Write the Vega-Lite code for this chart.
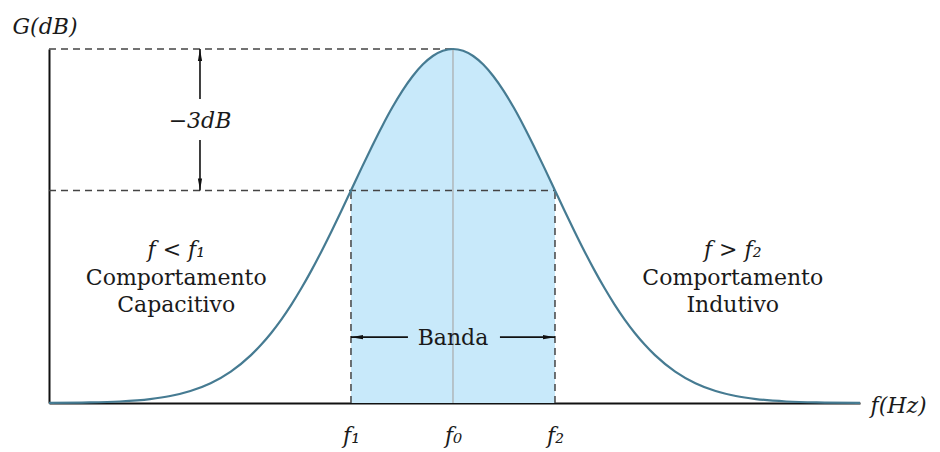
{
  "$schema": "https://vega.github.io/schema/vega-lite/v6.json",
  "width": 811,
  "height": 354,
  "autosize": {"type": "none"},
  "padding": {"left": 49, "top": 49, "right": 80, "bottom": 49},
  "background": "white",
  "config": {"view": {"stroke": null}, "font": "DejaVu Serif"},
  "datasets": {
    "curve": [
      {"x": -4.0, "y": 0.0003}, {"x": -3.6, "y": 0.0015}, {"x": -3.3, "y": 0.0043},
      {"x": -3.0, "y": 0.0111}, {"x": -2.8, "y": 0.0198}, {"x": -2.6, "y": 0.034},
      {"x": -2.4, "y": 0.0561}, {"x": -2.2, "y": 0.0889}, {"x": -2.0, "y": 0.1353},
      {"x": -1.9, "y": 0.1645}, {"x": -1.8, "y": 0.1979}, {"x": -1.7, "y": 0.2357},
      {"x": -1.6, "y": 0.278}, {"x": -1.5, "y": 0.3247}, {"x": -1.4, "y": 0.3753},
      {"x": -1.3, "y": 0.4296}, {"x": -1.2, "y": 0.4868}, {"x": -1.1, "y": 0.5461},
      {"x": -1.01, "y": 0.6005}, {"x": -0.9, "y": 0.667}, {"x": -0.8, "y": 0.7261},
      {"x": -0.7, "y": 0.7827}, {"x": -0.6, "y": 0.8353}, {"x": -0.5, "y": 0.8825},
      {"x": -0.4, "y": 0.9231}, {"x": -0.3, "y": 0.956}, {"x": -0.2, "y": 0.9802},
      {"x": -0.1, "y": 0.995}, {"x": 0.0, "y": 1.0}, {"x": 0.1, "y": 0.995},
      {"x": 0.2, "y": 0.9802}, {"x": 0.3, "y": 0.956}, {"x": 0.4, "y": 0.9231},
      {"x": 0.5, "y": 0.8825}, {"x": 0.6, "y": 0.8353}, {"x": 0.7, "y": 0.7827},
      {"x": 0.8, "y": 0.7261}, {"x": 0.9, "y": 0.667}, {"x": 1.01, "y": 0.6005},
      {"x": 1.1, "y": 0.5461}, {"x": 1.2, "y": 0.4868}, {"x": 1.3, "y": 0.4296},
      {"x": 1.4, "y": 0.3753}, {"x": 1.5, "y": 0.3247}, {"x": 1.6, "y": 0.278},
      {"x": 1.7, "y": 0.2357}, {"x": 1.8, "y": 0.1979}, {"x": 1.9, "y": 0.1645},
      {"x": 2.0, "y": 0.1353}, {"x": 2.2, "y": 0.0889}, {"x": 2.4, "y": 0.0561},
      {"x": 2.6, "y": 0.034}, {"x": 2.8, "y": 0.0198}, {"x": 3.0, "y": 0.0111},
      {"x": 3.3, "y": 0.0043}, {"x": 3.6, "y": 0.0015}, {"x": 4.03, "y": 0.0003}
    ],
    "dashes": [
      {"x": -4.0, "x2": 0.0, "y": 1.0, "y2": 1.0},
      {"x": -4.0, "x2": 1.01, "y": 0.6, "y2": 0.6},
      {"x": -1.01, "x2": -1.01, "y": 0.0, "y2": 0.6},
      {"x": 1.01, "x2": 1.01, "y": 0.0, "y2": 0.6}
    ],
    "center": [
      {"x": 0.0, "x2": 0.0, "y": 0.0, "y2": 1.0}
    ],
    "arrows": [
      {"x": -2.505, "x2": -2.505, "y": 1.0, "y2": 0.859},
      {"x": -2.505, "x2": -2.505, "y": 0.743, "y2": 0.6},
      {"x": -1.01, "x2": -0.446, "y": 0.186, "y2": 0.186},
      {"x": 0.465, "x2": 1.01, "y": 0.186, "y2": 0.186}
    ],
    "heads": [
      {"x": -2.505, "y": 1.0, "dir": "up"},
      {"x": -2.505, "y": 0.6, "dir": "down"},
      {"x": -1.01, "y": 0.186, "dir": "left"},
      {"x": 1.01, "y": 0.186, "dir": "right"}
    ],
    "notes": [
      {"x": -2.505, "y": 0.777, "text": "−3dB", "style": "math"},
      {"x": -2.74, "y": 0.413, "text": "f < f₁", "style": "math"},
      {"x": -2.74, "y": 0.333, "text": "Comportamento", "style": "plain"},
      {"x": -2.74, "y": 0.258, "text": "Capacitivo", "style": "plain"},
      {"x": 2.77, "y": 0.413, "text": "f > f₂", "style": "math"},
      {"x": 2.77, "y": 0.333, "text": "Comportamento", "style": "plain"},
      {"x": 2.77, "y": 0.256, "text": "Indutivo", "style": "plain"},
      {"x": 0.0, "y": 0.164, "text": "Banda", "style": "plain"}
    ]
  },
  "encoding": {
    "x": {
      "field": "x",
      "type": "quantitative",
      "scale": {"domain": [-4.0, 4.03], "nice": false, "zero": false},
      "axis": {
        "values": [-1.01, 0, 1.01],
        "labelExpr": "datum.value < -0.5 ? 'f₁' : (datum.value > 0.5 ? 'f₂' : 'f₀')",
        "ticks": false,
        "grid": false,
        "domainColor": "#111111",
        "domainWidth": 2,
        "labelFont": "DejaVu Serif",
        "labelFontSize": 22,
        "labelFontStyle": "italic",
        "labelColor": "#1a1a1a",
        "labelPadding": 22,
        "labelFlush": false,
        "labelOverlap": false,
        "title": "f(Hz)",
        "titleAngle": 0,
        "titleX": 821,
        "titleY": 2,
        "titleAlign": "left",
        "titleBaseline": "middle",
        "titleFont": "DejaVu Serif",
        "titleFontSize": 22,
        "titleFontStyle": "italic",
        "titleFontWeight": "normal",
        "titleColor": "#1a1a1a"
      }
    },
    "y": {
      "field": "y",
      "type": "quantitative",
      "scale": {"domain": [0, 1], "nice": false, "zero": false},
      "axis": {
        "ticks": false,
        "labels": false,
        "grid": false,
        "domainColor": "#111111",
        "domainWidth": 2,
        "title": "G(dB)",
        "titleAngle": 0,
        "titleX": -37,
        "titleY": -16,
        "titleAlign": "left",
        "titleBaseline": "alphabetic",
        "titleFont": "DejaVu Serif",
        "titleFontSize": 22,
        "titleFontStyle": "italic",
        "titleFontWeight": "normal",
        "titleColor": "#1a1a1a"
      }
    }
  },
  "layer": [
    {
      "data": {"name": "curve"},
      "transform": [{"filter": "datum.x >= -1.01 && datum.x <= 1.01"}],
      "mark": {"type": "area", "color": "#c8e9fa", "interpolate": "monotone"}
    },
    {
      "data": {"name": "center"},
      "mark": {"type": "rule", "color": "#a9a9a9", "strokeWidth": 1.2},
      "encoding": {"x2": {"field": "x2"}, "y2": {"field": "y2"}}
    },
    {
      "data": {"name": "dashes"},
      "mark": {"type": "rule", "color": "#444444", "strokeWidth": 1.5, "strokeDash": [7, 5]},
      "encoding": {"x2": {"field": "x2"}, "y2": {"field": "y2"}}
    },
    {
      "data": {"name": "curve"},
      "mark": {"type": "line", "color": "#467b92", "strokeWidth": 2.2, "interpolate": "monotone"}
    },
    {
      "data": {"name": "arrows"},
      "mark": {"type": "rule", "color": "#111111", "strokeWidth": 1.6},
      "encoding": {"x2": {"field": "x2"}, "y2": {"field": "y2"}}
    },
    {
      "data": {"name": "heads"},
      "mark": {"type": "point", "filled": true, "color": "#111111", "opacity": 1, "size": 144},
      "encoding": {
        "shape": {
          "field": "dir",
          "type": "nominal",
          "legend": null,
          "scale": {
            "domain": ["up", "down", "left", "right"],
            "range": [
              "M0,0L-0.35,2L0.35,2Z",
              "M0,0L-0.35,-2L0.35,-2Z",
              "M0,0L2,-0.35L2,0.35Z",
              "M0,0L-2,-0.35L-2,0.35Z"
            ]
          }
        }
      }
    },
    {
      "data": {"name": "notes"},
      "transform": [{"filter": "datum.style === 'math'"}],
      "mark": {"type": "text", "font": "DejaVu Serif", "fontSize": 22, "fontStyle": "italic", "color": "#1a1a1a", "align": "center", "baseline": "alphabetic"},
      "encoding": {"text": {"field": "text"}}
    },
    {
      "data": {"name": "notes"},
      "transform": [{"filter": "datum.style === 'plain'"}],
      "mark": {"type": "text", "font": "DejaVu Serif", "fontSize": 22, "color": "#1a1a1a", "align": "center", "baseline": "alphabetic"},
      "encoding": {"text": {"field": "text"}}
    }
  ]
}
